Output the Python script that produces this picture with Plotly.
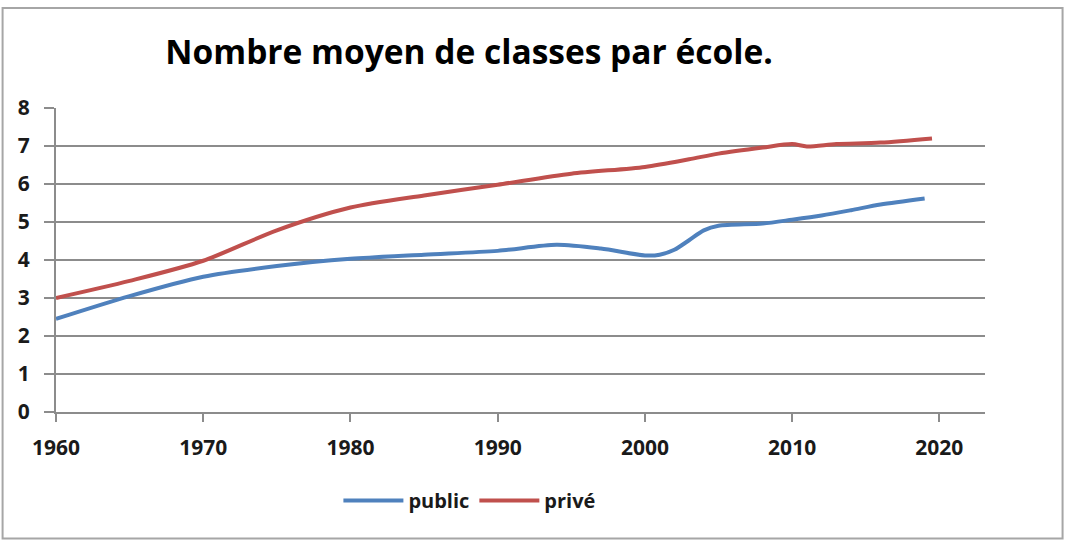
import plotly.graph_objects as go

# ---- data ----
public_years = [1960, 1965, 1970, 1975, 1980, 1985, 1990, 1994, 1997, 2000, 2001, 2002, 2003, 2004, 2005, 2008, 2010, 2012, 2014, 2016, 2019]
public_vals = [2.45, 3.05, 3.56, 3.84, 4.03, 4.14, 4.24, 4.40, 4.30, 4.12, 4.14, 4.27, 4.52, 4.78, 4.90, 4.96, 5.06, 5.17, 5.31, 5.46, 5.62]

prive_years = [1960, 1965, 1970, 1975, 1980, 1985, 1990, 1995, 2000, 2003, 2005, 2008, 2010, 2011, 2013, 2016, 2019.5]
prive_vals = [3.00, 3.45, 3.98, 4.78, 5.38, 5.70, 5.98, 6.27, 6.45, 6.65, 6.80, 6.96, 7.05, 6.99, 7.05, 7.09, 7.20]

x_ticks = [1960, 1970, 1980, 1990, 2000, 2010, 2020]
y_ticks = [0, 1, 2, 3, 4, 5, 6, 7, 8]

title_text = "Nombre moyen de classes par école."
FONT = "Open Sans"

fig = go.Figure()
fig.add_trace(go.Scatter(x=public_years, y=public_vals, name="public", mode="lines",
                         line=dict(color="#4F81BD", width=4, shape="spline", smoothing=0.8)))
fig.add_trace(go.Scatter(x=prive_years, y=prive_vals, name="privé", mode="lines",
                         line=dict(color="#C0504D", width=4, shape="spline", smoothing=0.8)))

fig.update_layout(
    width=1066, height=544,
    margin=dict(l=56, r=81, t=108, b=132),
    paper_bgcolor="white", plot_bgcolor="white",
    font=dict(family=FONT, color="#1a1a1a"),
    title=dict(text="<b>" + title_text + "</b>", x=0.4446, xanchor="center", xref="paper",
               y=0.903, yanchor="middle", yref="container",
               font=dict(size=33.5, family=FONT, color="#000000")),
    showlegend=True,
    legend=dict(orientation="h", x=0.445, xanchor="center", y=0.08, yref="container", yanchor="middle",
                font=dict(size=20, family=FONT, color="#1a1a1a"), itemwidth=60,
                bgcolor="rgba(0,0,0,0)"),
    xaxis=dict(range=[1960, 2023.1], tickvals=x_ticks, ticktext=[str(v) for v in x_ticks],
               showgrid=False, zeroline=False, showline=True, linecolor="#8c8c8c", linewidth=2,
               ticks="outside", ticklen=8, tickcolor="#8c8c8c", tickwidth=2,
               tickfont=dict(size=21, family=FONT, color="#1a1a1a"), ticklabelstandoff=8),
    yaxis=dict(range=[0, 8], tickvals=y_ticks, showgrid=True, gridcolor="#8c8c8c", gridwidth=2,
               zeroline=False, showline=True, linecolor="#8c8c8c", linewidth=2,
               ticks="outside", ticklen=10, tickcolor="#8c8c8c", tickwidth=2,
               tickfont=dict(size=21, family=FONT, color="#1a1a1a"), ticklabelstandoff=10),
    shapes=[dict(type="rect", xref="paper", yref="paper", x0=-0.0575, x1=1.0835, y0=-0.4165, y1=1.329,
                 line=dict(color="#a6a6a6", width=2), fillcolor="rgba(0,0,0,0)", layer="below")],
)
fig.update_xaxes(tickfont_weight="bold")
fig.update_yaxes(tickfont_weight="bold")
fig.update_layout(legend_font_weight="bold")

fig.write_html("out.html", config={"displayModeBar": False},
               post_script="document.body.style.margin='0';document.body.style.overflow='hidden';")
